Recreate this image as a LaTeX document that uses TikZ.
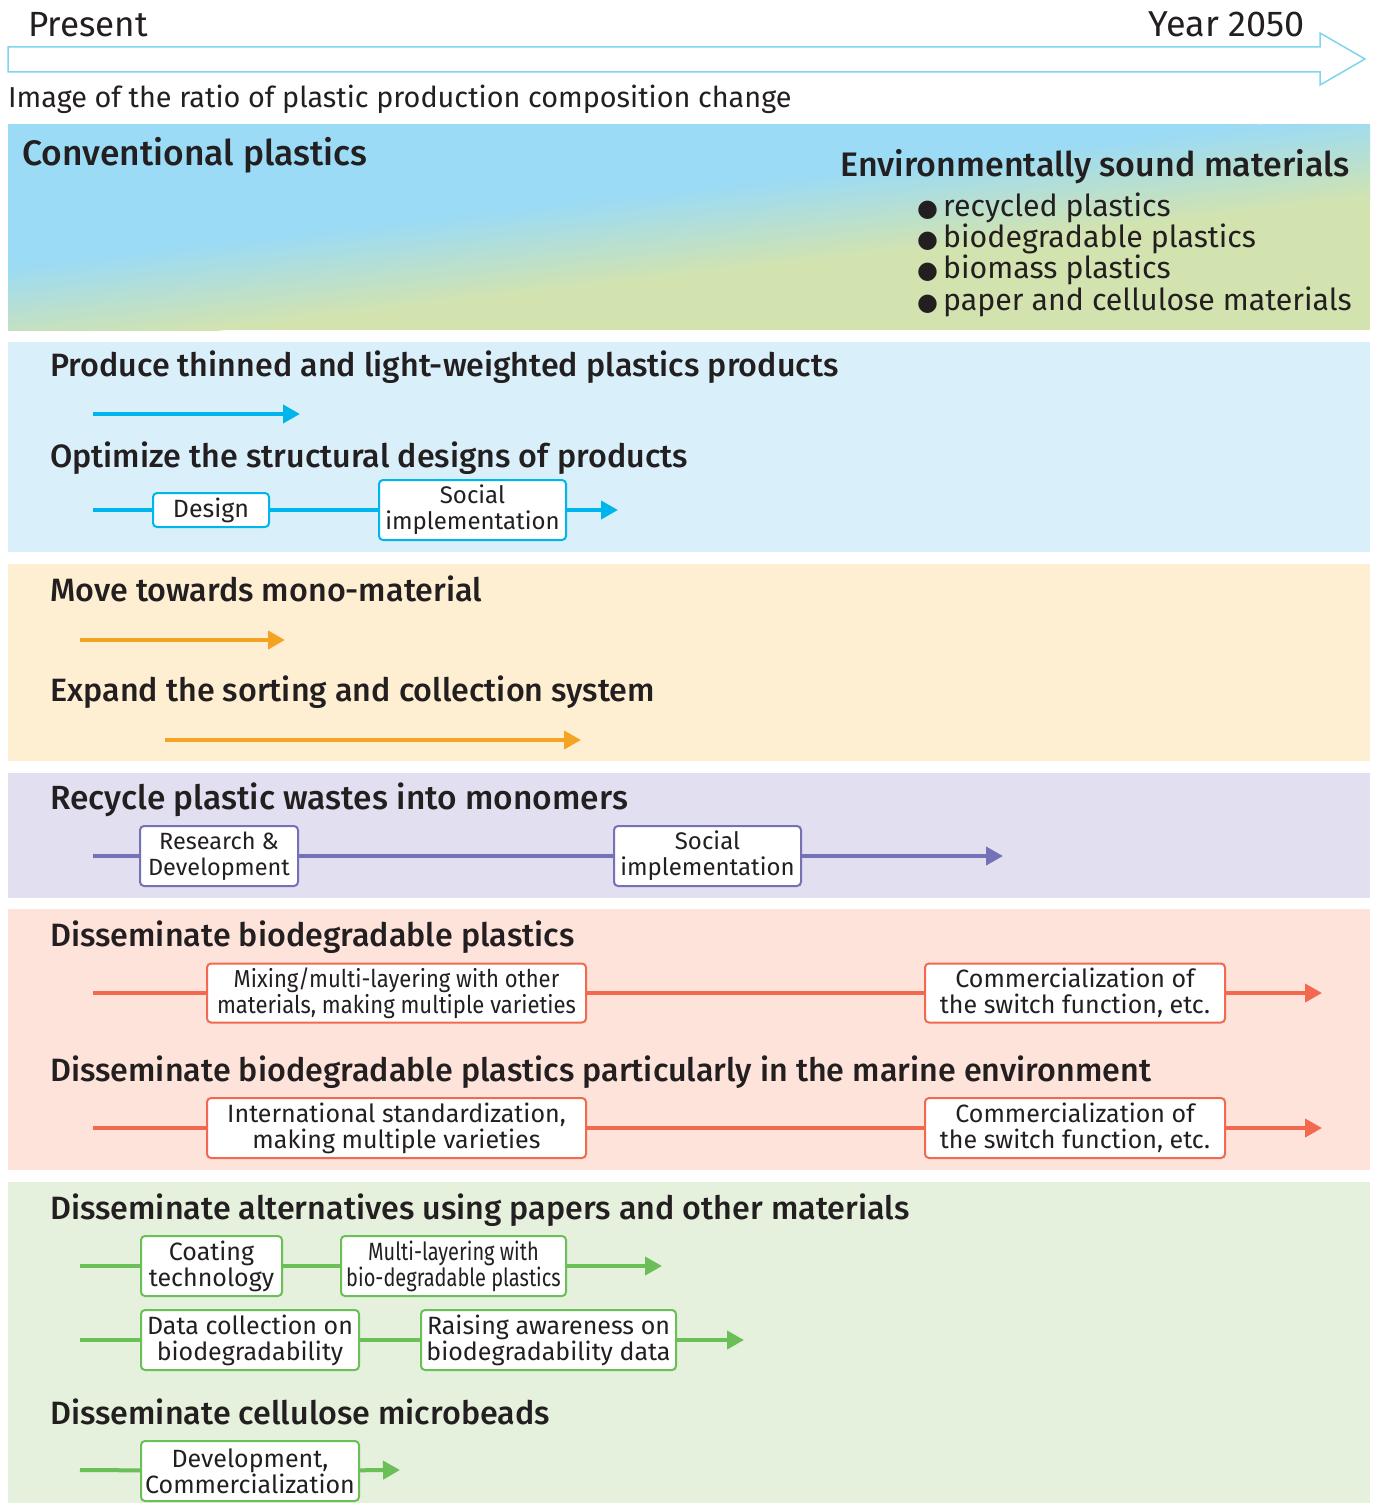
\documentclass[tikz,border=0pt]{standalone}
\usepackage{fontspec}
\setmainfont{Fira Sans}
\newfontfamily\headfont{Fira Sans}[UprightFont={* Medium}]
\newfontfamily\narrowfont{Fira Sans}[FakeStretch=0.8]
\newfontfamily\slimfont{Fira Sans}[FakeStretch=0.9]
\newfontfamily\dotfont{DejaVu Sans}
\usetikzlibrary{arrows.meta}

\definecolor{ink}{HTML}{231F20}
\definecolor{timeline}{HTML}{7FD4F0}
\definecolor{blueband}{HTML}{9BDBF6}
\definecolor{greenband}{HTML}{D2E3B0}
\definecolor{lightcyan}{HTML}{D9F0FA}
\definecolor{lightorange}{HTML}{FEEFD3}
\definecolor{lightpurple}{HTML}{E1DFF0}
\definecolor{lightred}{HTML}{FDE3DA}
\definecolor{lightgreen}{HTML}{E5F0DD}
\definecolor{cyanline}{HTML}{00B4EC}
\definecolor{orangeline}{HTML}{F4A422}
\definecolor{purpleline}{HTML}{7571B6}
\definecolor{redline}{HTML}{F2694F}
\definecolor{greenline}{HTML}{6ABF56}

\tikzset{
  headline/.style={anchor=base west,inner sep=0pt,text=ink,font=\headfont\fontsize{32.3}{36}\selectfont},
  plaintext/.style={inner sep=0pt,text=ink,font=\fontsize{28.8}{32}\selectfont},
  stepbox/.style={draw=#1,fill=white,line width=2pt,rounded corners=4pt,align=center,
    inner sep=0pt,text=ink,font=\fontsize{25}{26}\selectfont},
  flow/.style={draw=#1,line width=4pt,-{Triangle[length=17pt,width=18pt]}},
  link/.style={draw=#1,line width=4pt},
}

\begin{document}
\begin{tikzpicture}[x=1pt,y=-1pt]
\useasboundingbox (0,0) rectangle (1375,1503);

% time axis
\draw[timeline,line width=1.5pt,fill=white] (8,47) -- (1320,47) -- (1320,33) -- (1365,59)
  -- (1320,85) -- (1320,72) -- (8,72) -- cycle;
\node[plaintext,anchor=base west,font=\fontsize{35}{38}\selectfont] (present) at (28,37) {Present};
\node[plaintext,anchor=base east,font=\fontsize{36}{38}\selectfont] (year) at (1305,37) {Year 2050};
\node[plaintext,anchor=base west] (ratio) at (8,108) {Image of the ratio of plastic production composition change};

% composition band
\begin{scope}
\clip (8,125) rectangle (1370,330);
\fill[greenband] (8,125) rectangle (1370,330);
\fill[blueband] (8,100) -- (1370,100) -- (1370,112) -- (8,266) -- cycle;
\foreach \i in {0,...,43}{
  \pgfmathsetmacro\mix{100-100*\i/43}
  \fill[blueband!\mix!greenband] (8,266+2*\i) -- (1370,112+2*\i) -- (1370,114.6+2*\i) -- (8,268.6+2*\i) -- cycle;
}
\end{scope}
\node[headline,font=\headfont\fontsize{35.4}{38}\selectfont] (conv) at (22,166) {Conventional plastics};
\node[headline,anchor=base east,font=\headfont\fontsize{34}{38}\selectfont] (env) at (1350,177) {Environmentally sound materials};
\foreach \txt [count=\k] in {recycled plastics,biodegradable plastics,biomass plastics,paper and cellulose materials}{
  \node[plaintext,anchor=base west,font=\fontsize{30.3}{32}\selectfont] (item\k) at (917,186+31*\k) {{\dotfont\fontsize{24}{26}\selectfont ●}\,\txt};
}

% bands
\fill[lightcyan] (8,342) rectangle (1370,552);
\fill[lightorange] (8,564) rectangle (1370,761);
\fill[lightpurple] (8,773) rectangle (1370,898);
\fill[lightred] (8,909) rectangle (1370,1170);
\fill[lightgreen] (8,1182) rectangle (1370,1503);

% thinning and design
\node[headline] (thin) at (50,376) {Produce thinned and light-weighted plastics products};
\coordinate (thinS) at (93,414);
\coordinate (thinE) at (300,414);
\draw[flow=cyanline] (thinS) -- (thinE);

\node[headline] (opt) at (50,467) {Optimize the structural designs of products};
\coordinate (optS) at (93,510);
\coordinate (optE) at (618,510);
\node[stepbox=cyanline,minimum width=116pt,minimum height=34pt] (design) at (211,510) {Design};
\node[stepbox=cyanline,minimum width=187pt,minimum height=60pt,font=\fontsize{24}{26}\selectfont] (socialA) at (472.5,510) {Social\\implementation};
\draw[link=cyanline] (optS) -- (design) -- (socialA);
\draw[flow=cyanline] (socialA) -- (optE);

% mono-material and collection
\node[headline] (mono) at (50,601) {Move towards mono-material};
\coordinate (monoS) at (80,640);
\coordinate (monoE) at (285,640);
\draw[flow=orangeline] (monoS) -- (monoE);

\node[headline] (sort) at (50,701) {Expand the sorting and collection system};
\coordinate (sortS) at (165,740);
\coordinate (sortE) at (581,740);
\draw[flow=orangeline] (sortS) -- (sortE);

% monomer recycling
\node[headline,font=\headfont\fontsize{33.5}{36}\selectfont] (recyc) at (50,809) {Recycle plastic wastes into monomers};
\coordinate (recS) at (93,856);
\coordinate (recE) at (1003,856);
\node[stepbox=purpleline,minimum width=158pt,minimum height=60pt,font=\fontsize{23.5}{26}\selectfont] (rnd) at (219,856) {Research \&\\Development};
\node[stepbox=purpleline,minimum width=187pt,minimum height=60pt,font=\fontsize{24}{26}\selectfont] (socialB) at (707.5,856) {Social\\implementation};
\draw[link=purpleline] (recS) -- (rnd) -- (socialB);
\draw[flow=purpleline] (socialB) -- (recE);

% biodegradable plastics
\node[headline] (bio) at (50,946) {Disseminate biodegradable plastics};
\coordinate (bioS) at (93,993);
\coordinate (bioE) at (1322,993);
\node[stepbox=redline,minimum width=379pt,minimum height=59pt,font=\slimfont\fontsize{24.5}{26}\selectfont] (mixing) at (396.5,993) {Mixing/multi-layering with other\\materials, making multiple varieties};
\node[stepbox=redline,minimum width=300pt,minimum height=59pt] (commA) at (1075,993) {Commercialization of\\the switch function, etc.};
\draw[link=redline] (bioS) -- (mixing) -- (commA);
\draw[flow=redline] (commA) -- (bioE);

\node[headline] (marine) at (50,1081) {Disseminate biodegradable plastics particularly in the marine environment};
\coordinate (marS) at (93,1128);
\coordinate (marE) at (1322,1128);
\node[stepbox=redline,minimum width=379pt,minimum height=60pt] (intl) at (396.5,1128) {International standardization,\\making multiple varieties};
\node[stepbox=redline,minimum width=300pt,minimum height=60pt] (commB) at (1075,1128) {Commercialization of\\the switch function, etc.};
\draw[link=redline] (marS) -- (intl) -- (commB);
\draw[flow=redline] (commB) -- (marE);

% paper alternatives
\node[headline] (paper) at (50,1219) {Disseminate alternatives using papers and other materials};
\coordinate (papS) at (80,1266);
\coordinate (papE) at (662,1266);
\node[stepbox=greenline,minimum width=141pt,minimum height=60pt] (coat) at (211.5,1266) {Coating\\technology};
\node[stepbox=greenline,minimum width=225pt,minimum height=60pt,font=\narrowfont\fontsize{25}{26}\selectfont] (multi) at (453.5,1266) {Multi-layering with\\bio-degradable plastics};
\draw[link=greenline] (papS) -- (coat) -- (multi);
\draw[flow=greenline] (multi) -- (papE);

\coordinate (datS) at (80,1340);
\coordinate (datE) at (744,1340);
\node[stepbox=greenline,minimum width=218pt,minimum height=60pt] (datacol) at (250,1340) {Data collection on\\biodegradability};
\node[stepbox=greenline,minimum width=255pt,minimum height=60pt] (raise) at (548.5,1340) {Raising awareness on\\biodegradability data};
\draw[link=greenline] (datS) -- (datacol) -- (raise);
\draw[flow=greenline] (raise) -- (datE);

% microbeads
\node[headline] (beads) at (50,1424) {Disseminate cellulose microbeads};
\coordinate (micS) at (80,1470);
\coordinate (micE) at (400,1470);
\node[stepbox=greenline,minimum width=218pt,minimum height=60pt] (devcom) at (250,1471) {Development,\\Commercialization};
\draw[link=greenline] (micS) -- (devcom);
\draw[flow=greenline] (devcom) -- (micE);
\end{tikzpicture}
\end{document}
